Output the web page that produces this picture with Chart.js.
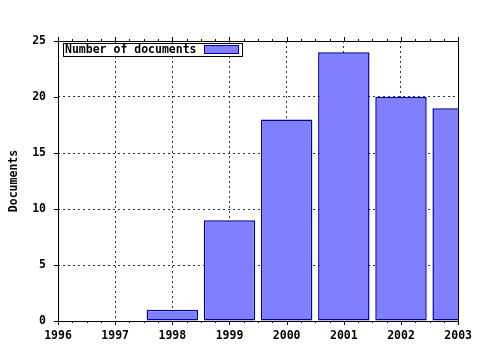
<!DOCTYPE html>
<html lang="en">
<head>
<meta charset="utf-8">
<title>Number of documents</title>
<script src="https://cdn.jsdelivr.net/npm/chart.js@4/dist/chart.umd.min.js"></script>
<style>
  html, body { margin: 0; padding: 0; background: #fff; }
  #wrap { width: 480px; height: 350px; }
</style>
</head>
<body>
<div id="wrap"><canvas id="chart" width="480" height="350"></canvas></div>
<script>
// data
var years = [1998, 1999, 2000, 2001, 2002, 2003];
var docs = [1, 9, 18, 24, 20, 19];
var seriesLabel = 'Number of documents';
var xTicks = [1996, 1997, 1998, 1999, 2000, 2001, 2002, 2003];
var yTicks = [0, 5, 10, 15, 20, 25];

var monoFont = { family: '"DejaVu Sans Mono", "Liberation Mono", monospace', size: 11.5, weight: 'bold' };
var barFill = '#8080ff';
var barLine = '#0000a0';

// border, outward ticks (minor ticks on x) and the boxed legend, gnuplot style
var framePlugin = {
  id: 'frame',
  afterDraw: function(chart) {
    var ctx = chart.ctx;
    var a = chart.chartArea;
    var xs = chart.scales.x, ys = chart.scales.y;
    ctx.save();
    ctx.strokeStyle = '#000';
    ctx.lineWidth = 1;
    ctx.beginPath();
    ctx.rect(Math.round(a.left) + 0.5, Math.round(a.top) + 0.5,
             Math.round(a.right - a.left), Math.round(a.bottom - a.top));
    // x ticks bottom and top
    for (var t = xTicks[0]; t <= xTicks[xTicks.length - 1] + 0.001; t += 0.25) {
      var px = Math.round(xs.getPixelForValue(t)) + 0.5;
      var major = Math.abs(t - Math.round(t)) < 0.001;
      var len = major ? 4 : 2;
      ctx.moveTo(px, a.bottom); ctx.lineTo(px, a.bottom + len);
      ctx.moveTo(px, a.top); ctx.lineTo(px, a.top - len);
    }
    yTicks.forEach(function(v) {
      var py = Math.round(ys.getPixelForValue(v)) + 0.5;
      ctx.moveTo(a.left - 4, py); ctx.lineTo(a.left, py);
    });
    ctx.stroke();

    // legend
    var lx = 63, ly = 43, lw = 179, lh = 13;
    ctx.fillStyle = '#fff';
    ctx.fillRect(lx, ly, lw, lh);
    ctx.strokeRect(lx + 0.5, ly + 0.5, lw, lh);
    ctx.fillStyle = '#000';
    ctx.font = 'bold 11.5px "DejaVu Sans Mono", monospace';
    ctx.textBaseline = 'middle';
    ctx.textAlign = 'left';
    ctx.fillText(seriesLabel, lx + 2, ly + lh / 2 + 1);
    ctx.fillStyle = barFill;
    ctx.fillRect(204, 45, 34, 8);
    ctx.strokeStyle = barLine;
    ctx.strokeRect(204.5, 45.5, 34, 8);
    ctx.restore();
  }
};

new Chart(document.getElementById('chart'), {
  type: 'bar',
  data: {
    datasets: [{
      label: seriesLabel,
      data: years.map(function(y, i) { return { x: y, y: docs[i] }; }),
      backgroundColor: barFill,
      borderColor: barLine,
      borderWidth: 1.5,
      borderSkipped: false,
      barPercentage: 0.9,
      categoryPercentage: 1.0
    }]
  },
  options: {
    responsive: false,
    animation: false,
    layout: { padding: { left: 0, top: 41, right: 21, bottom: 0 } },
    plugins: { legend: { display: false }, tooltip: { enabled: false } },
    scales: {
      x: {
        type: 'linear',
        min: 1996, max: 2003,
        offset: false,
        afterFit: function(s) { s.height = 29; },
        afterBuildTicks: function(s) { s.ticks = xTicks.map(function(v) { return { value: v }; }); },
        ticks: { font: monoFont, color: '#000', padding: 8, maxRotation: 0,
                 callback: function(v) { return String(v); } },
        grid: { color: '#333', offset: false, drawTicks: false, tickLength: 0 },
        border: { display: false, dash: [2, 3] }
      },
      y: {
        min: 0, max: 25,
        afterFit: function(s) { s.width = 58; },
        afterBuildTicks: function(s) { s.ticks = yTicks.map(function(v) { return { value: v }; }); },
        ticks: { font: monoFont, color: '#000', padding: 12 },
        grid: { color: '#333', drawTicks: false, tickLength: 0 },
        border: { display: false, dash: [2, 3] },
        title: { display: true, text: 'Documents', font: monoFont, color: '#000', padding: { top: 7, bottom: 0 } }
      }
    }
  },
  plugins: [framePlugin]
});
</script>
</body>
</html>
